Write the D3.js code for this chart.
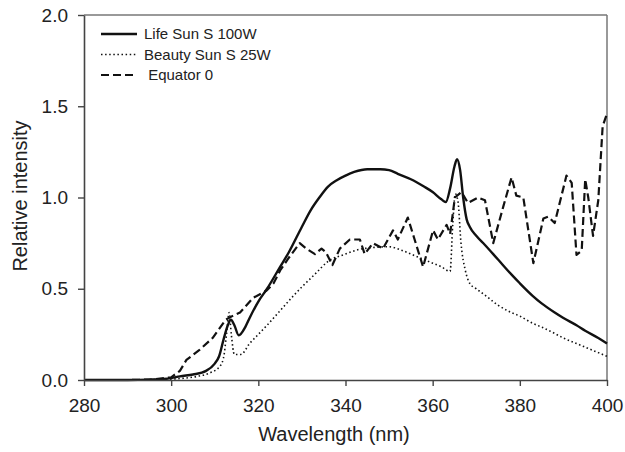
<!DOCTYPE html>
<html>
<head>
<meta charset="utf-8">
<script src="https://cdn.jsdelivr.net/npm/d3@7"></script>
<style>
  body { margin: 0; background: #fff; }
  svg { font-family: "Liberation Sans", Arial, sans-serif; }
</style>
</head>
<body>
<svg id="chart" width="625" height="452"></svg>
<script>
// tick labels
var xTicks = [280, 300, 320, 340, 360, 380, 400];
var yTicks = [0, 0.5, 1.0, 1.5, 2.0];

// Life Sun S 100W
var lifeNm = [280,285,290,295,298,300,302,305,308,310,311,312,313,313.7,314.5,315.5,317,318,320,322,325,327,330,332,334,336,338,340,342,345,348,350,352,355,358,360,362,363,364,365,365.6,366.3,367,367.8,368.5,370,372,375,378,380,383,385,388,390,393,395,398,400];
var lifeVal = [0,0,0,0.002,0.005,0.01,0.02,0.03,0.05,0.09,0.13,0.22,0.30,0.33,0.30,0.245,0.29,0.34,0.43,0.50,0.62,0.70,0.84,0.93,1.00,1.06,1.095,1.12,1.14,1.155,1.155,1.15,1.13,1.10,1.06,1.03,0.99,0.975,1.05,1.17,1.21,1.15,1.0,0.88,0.84,0.79,0.74,0.66,0.58,0.53,0.46,0.42,0.37,0.34,0.30,0.27,0.23,0.20];

// Beauty Sun S 25W
var beautyNm = [280,290,295,300,303,306,309,311,312,312.7,313.3,313.8,314.5,316,318,320,322,325,328,330,333,336,340,343,346,350,353,356,359,362,364,364.6,365.2,365.8,366.5,367.5,368.5,370,372,375,378,380,383,385,388,390,393,395,398,400];
var beautyVal = [0,0,0.002,0.005,0.01,0.02,0.04,0.07,0.12,0.25,0.37,0.25,0.14,0.14,0.20,0.25,0.30,0.38,0.46,0.51,0.58,0.65,0.69,0.715,0.725,0.73,0.71,0.68,0.65,0.62,0.595,0.85,1.02,0.98,0.75,0.60,0.53,0.50,0.465,0.41,0.37,0.35,0.31,0.29,0.255,0.23,0.20,0.18,0.15,0.13];

// Equator 0
var equatorNm = [280,290,296,300,302,303.5,306.5,309.5,312.5,314,315.8,318.8,321.9,323.5,325,327,329.5,331,333,334.5,335.5,337,338.7,341,343.3,344.4,346.3,348.6,350.9,352,354.3,357.8,360.1,361.2,363.2,364,365.1,366.6,368.1,370.4,372,373.9,376.2,378.1,379.2,380.8,383.1,385.4,386.5,388,390.7,391.9,393,394.2,395,395.7,396.8,398,399,400];
var equatorVal = [0,0,0.003,0.015,0.05,0.11,0.165,0.23,0.33,0.35,0.37,0.45,0.49,0.53,0.60,0.67,0.75,0.72,0.69,0.72,0.70,0.63,0.72,0.77,0.77,0.69,0.75,0.72,0.82,0.77,0.89,0.62,0.82,0.77,0.85,0.80,1.0,1.03,0.97,1.0,0.985,0.75,0.95,1.11,1.01,1.0,0.64,0.885,0.895,0.86,1.12,1.08,0.685,0.71,1.10,1.0,0.79,0.985,1.39,1.46];

var seriesNames = ["Life Sun S 100W", "Beauty Sun S 25W", " Equator 0"];

var margin = {top: 15, right: 18, bottom: 72, left: 84};
var width = 625 - margin.left - margin.right,
    height = 452 - margin.top - margin.bottom;

var svg = d3.select("#chart");
var g = svg.append("g").attr("transform", "translate(" + margin.left + "," + margin.top + ")");

var x = d3.scaleLinear().domain([280, 400]).range([0, width]);
var y = d3.scaleLinear().domain([0, 2]).range([height, 0]);

// frame (top + right)
g.append("line").attr("x1", 0).attr("x2", width).attr("y1", 0).attr("y2", 0)
  .attr("stroke", "#777").attr("stroke-width", 1.5);
g.append("line").attr("x1", width).attr("x2", width).attr("y1", 0).attr("y2", height)
  .attr("stroke", "#777").attr("stroke-width", 1.5);

function pairs(a, b) { return a.map((v, i) => [v, b[i]]); }

var styles = [
  {data: pairs(lifeNm, lifeVal), w: 2.4, dash: null, curve: d3.curveMonotoneX},
  {data: pairs(beautyNm, beautyVal), w: 1.6, dash: "1.5,2.6", curve: d3.curveMonotoneX},
  {data: pairs(equatorNm, equatorVal), w: 2.2, dash: "8,4", curve: d3.curveLinear}
];

styles.forEach(function(s) {
  var line = d3.line().x(d => x(d[0])).y(d => y(d[1])).curve(s.curve);
  g.append("path")
    .datum(s.data)
    .attr("fill", "none")
    .attr("stroke", "#111")
    .attr("stroke-width", s.w)
    .attr("stroke-dasharray", s.dash)
    .attr("stroke-linejoin", "round")
    .attr("d", line);
});

// axes
var xAxis = g.append("g").attr("transform", "translate(0," + height + ")")
  .call(d3.axisBottom(x).tickValues(xTicks).tickSize(6).tickSizeOuter(0).tickPadding(13));
var yAxis = g.append("g")
  .call(d3.axisLeft(y).tickValues(yTicks).tickFormat(d3.format(".1f")).tickSize(6).tickSizeOuter(0).tickPadding(10));

[xAxis, yAxis].forEach(function(a) {
  a.select(".domain").attr("stroke", "#444").attr("stroke-width", 1.6);
  a.selectAll(".tick line").attr("stroke", "#444").attr("stroke-width", 1.4);
  a.selectAll(".tick text").attr("fill", "#222").style("font-size", "19px");
});

// axis titles
svg.append("text")
  .attr("x", 334).attr("y", 441)
  .attr("text-anchor", "middle")
  .attr("fill", "#222")
  .style("font-size", "20px")
  .text("Wavelength (nm)");

svg.append("text")
  .attr("transform", "translate(27,196) rotate(-90)")
  .attr("text-anchor", "middle")
  .attr("fill", "#222")
  .style("font-size", "20px")
  .text("Relative intensity");

// legend
var legend = svg.append("g").attr("transform", "translate(101,34)");
seriesNames.forEach(function(name, i) {
  var row = legend.append("g").attr("transform", "translate(0," + (i * 20.5) + ")");
  row.append("line")
    .attr("x1", 0).attr("x2", 36).attr("y1", 0).attr("y2", 0)
    .attr("stroke", "#111")
    .attr("stroke-width", styles[i].w)
    .attr("stroke-dasharray", styles[i].dash);
  row.append("text")
    .attr("x", 43).attr("y", 5)
    .attr("fill", "#222")
    .style("font-size", "15px")
    .style("white-space", "pre")
    .attr("xml:space", "preserve")
    .text(name);
});
</script>
</body>
</html>
